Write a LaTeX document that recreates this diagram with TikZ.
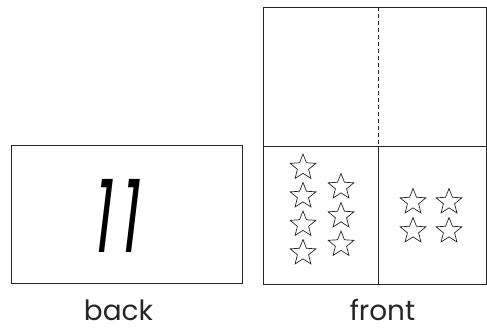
\documentclass[tikz,border=0pt]{standalone}
\usepackage{fontspec}
\setmainfont{Poppins}
\usetikzlibrary{shapes.geometric}
\tikzset{
  frame/.style={draw=black!85, line width=1bp},
  starnode/.style={star, star points=5, star point ratio=2.3, draw=black!85, line width=0.7bp, minimum size=27bp, inner sep=0pt},
  label/.style={font=\fontsize{28}{30}\selectfont, text=black!85, anchor=base, inner sep=0pt},
}
\begin{document}
\begin{tikzpicture}[x=1bp,y=-1bp]
\useasboundingbox (0,0) rectangle (487,333);
% back card
\node[frame, rectangle, minimum width=230bp, minimum height=138bp, inner sep=0pt] (back) at (127,214) {};
\node[font=\fontsize{58}{60}\selectfont, inner sep=0pt, xslant=0.12] (num) at (118.5,216) {\scalebox{1}[1.75]{1\hspace{9bp}1}};
\node[label] (backlabel) at (118.5,320) {back};
% front card
\coordinate (ftl) at (263,7);
\coordinate (fbr) at (486,284);
\draw[frame] (ftl) rectangle (fbr);
\coordinate (hl) at (263,146);
\coordinate (hr) at (486,146);
\coordinate (vt) at (378,7);
\coordinate (vm) at (378,146);
\coordinate (vb) at (378,284);
\draw[frame] (hl) -- (hr);
\draw[frame, dash pattern=on 4bp off 3bp] (vt) -- (vm);
\draw[frame] (vm) -- (vb);
% stars
\node[starnode] (s1) at (303,167.5) {};
\node[starnode] (s2) at (303,196) {};
\node[starnode] (s3) at (303,224.5) {};
\node[starnode] (s4) at (303,253) {};
\node[starnode] (s5) at (341,187) {};
\node[starnode] (s6) at (341,216) {};
\node[starnode] (s7) at (341,244.5) {};
\node[starnode] (s8) at (413,202) {};
\node[starnode] (s9) at (449,202) {};
\node[starnode] (s10) at (413,231) {};
\node[starnode] (s11) at (449,231) {};
\node[label] (frontlabel) at (382.5,320) {front};
\end{tikzpicture}
\end{document}
